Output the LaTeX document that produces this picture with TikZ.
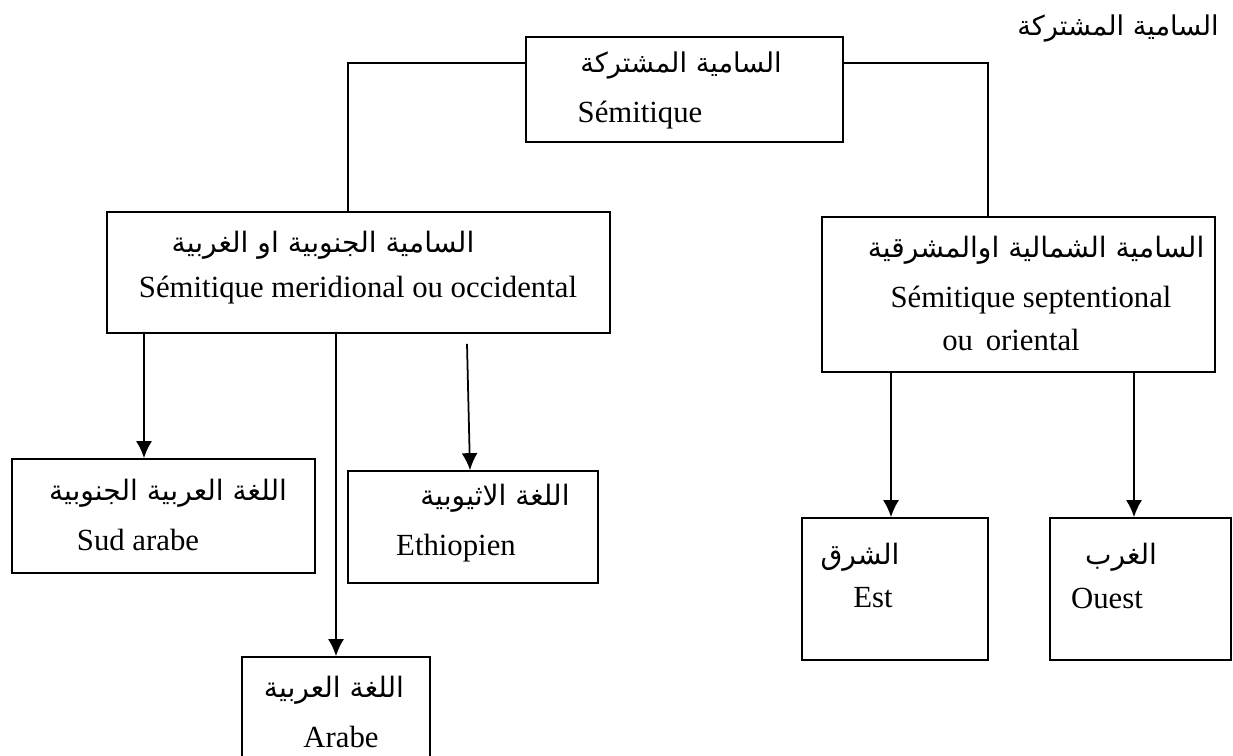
\documentclass[tikz,border=0pt]{standalone}
\usepackage{fontspec}
\setmainfont{Liberation Serif}
\newfontfamily\arabicfont[Script=Arabic]{DejaVu Sans}
\TeXXeTstate=1
\usetikzlibrary{arrows.meta,calc}

\begin{document}
\begin{tikzpicture}[x=0.02cm, y=-0.02cm,
    box/.style={draw, line width=1pt, inner sep=0pt},
    ar/.style={font=\arabicfont\fontsize{16}{19}\selectfont, inner sep=0pt},
    fr/.style={font=\fontsize{17.5}{21}\selectfont, inner sep=0pt},
    link/.style={line width=1pt},
    arr/.style={line width=1pt, -{Latex[length=0.34cm, width=0.32cm]}}
  ]
  \useasboundingbox (0,0) rectangle (1233,755);

  % boxes
  \node[box, minimum width=6.34cm, minimum height=2.1cm] (sem) at (684.5,89.5) {};
  \node[box, minimum width=10.06cm, minimum height=2.42cm] (south) at (358.5,272.5) {};
  \node[box, minimum width=7.86cm, minimum height=3.1cm] (north) at (1018.5,294.5) {};
  \node[box, minimum width=6.06cm, minimum height=2.28cm] (sudarabe) at (163.5,516) {};
  \node[box, minimum width=5cm, minimum height=2.24cm] (ethiop) at (473,527) {};
  \node[box, minimum width=3.76cm, minimum height=2.66cm] (arabe) at (336,723.5) {};
  \node[box, minimum width=3.72cm, minimum height=2.84cm] (est) at (895,589) {};
  \node[box, minimum width=3.62cm, minimum height=2.84cm] (ouest) at (1140.5,589) {};

  % texts
  \node[ar, font=\arabicfont\fontsize{15.5}{18}\selectfont] (title-ar) at (1118,28) {\beginR السامية المشتركة\endR};
  \node[ar, font=\arabicfont\fontsize{15.5}{18}\selectfont] (sem-ar) at (681,65) {\beginR السامية المشتركة\endR};
  \node[fr] (sem-fr) at (640,115) {Sémitique};
  \node[ar] (south-ar) at (323,245) {\beginR السامية الجنوبية او الغربية\endR};
  \node[fr] (south-fr) at (358,290) {Sémitique meridional ou occidental};
  \node[ar] (north-ar) at (1036,250) {\beginR السامية الشمالية اوالمشرقية\endR};
  \node[fr] (north-fr) at (1031,300) {Sémitique septentional};
  \node[fr] (north-fr2) at (1011,340) {ou\, oriental};
  \node[ar] (sudarabe-ar) at (168,493) {\beginR اللغة العربية الجنوبية\endR};
  \node[fr] (sudarabe-fr) at (138,540) {Sud arabe};
  \node[ar] (ethiop-ar) at (495,498) {\beginR اللغة الاثيوبية\endR};
  \node[fr] (ethiop-fr) at (456,548) {Ethiopien};
  \node[ar] (arabe-ar) at (334,690) {\beginR اللغة العربية\endR};
  \node[fr] (arabe-fr) at (341,737) {Arabe};
  \node[ar] (est-ar) at (860,557) {\beginR الشرق\endR};
  \node[fr] (est-fr) at (873,598) {Est};
  \node[ar] (ouest-ar) at (1121,557) {\beginR الغرب\endR};
  \node[fr] (ouest-fr) at (1107,598) {Ouest};

  % connectors
  \draw[link] ($(sem.west)+(0,-26.5)$) -| ($(south.north)+(-10.5,0)$);
  \draw[link] ($(sem.east)+(0,-26.5)$) -| ($(north.north)+(-30.5,0)$);
  \draw[arr] ($(sudarabe.north |- south.south)+(-19.5,0)$) -- ($(sudarabe.north)+(-19.5,0)$);
  \draw[arr] (arabe.north |- south.south) -- (arabe.north);
  \draw[arr] ($(ethiop.north |- south.south)+(-6,10)$) -- ($(ethiop.north)+(-3,0)$);
  \draw[arr] ($(est.north |- north.south)+(-4,0)$) -- ($(est.north)+(-4,0)$);
  \draw[arr] ($(ouest.north |- north.south)+(-6.5,0)$) -- ($(ouest.north)+(-6.5,0)$);
\end{tikzpicture}
\end{document}
